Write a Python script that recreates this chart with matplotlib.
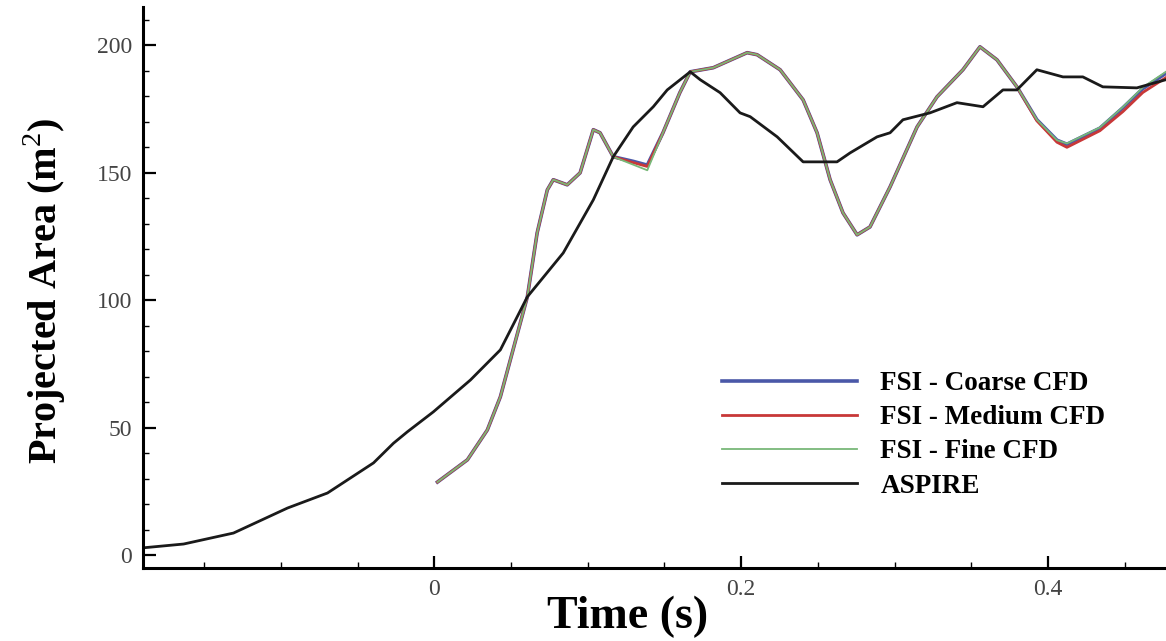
import numpy as np
import matplotlib
matplotlib.use("Agg")
import matplotlib.pyplot as plt
from matplotlib.ticker import MultipleLocator

plt.rcParams['font.family'] = ['Liberation Serif', 'DejaVu Serif']
plt.rcParams['mathtext.fontset'] = 'custom'
plt.rcParams['mathtext.rm'] = 'Liberation Serif'
plt.rcParams['mathtext.bf'] = 'Liberation Serif:bold'

# ASPIRE measured projected area
t_aspire = [-0.19, -0.1635, -0.131, -0.0958, -0.0697, -0.0397, -0.0267, -0.0176,
            -0.0007, 0.0235, 0.043, 0.0606, 0.084, 0.1036, 0.1166, 0.1296, 0.1427,
            0.1518, 0.1668, 0.1733, 0.1863, 0.1993, 0.2059, 0.2235, 0.2404, 0.2625,
            0.271, 0.2886, 0.2971, 0.3055, 0.3231, 0.3407, 0.3577, 0.3707, 0.3798,
            0.3928, 0.4098, 0.4228, 0.4358, 0.458, 0.4769]
a_aspire = [3.0, 4.5, 8.8, 18.6, 24.5, 36.3, 44.0, 48.5,
            56.3, 68.8, 80.6, 101.4, 118.6, 139.4, 156.3, 168.0, 175.9,
            182.5, 189.6, 186.5, 181.4, 173.5, 172.0, 164.1, 154.3, 154.3,
            157.8, 164.1, 165.7, 170.8, 173.5, 177.5, 175.9, 182.5, 182.5,
            190.4, 187.6, 187.6, 183.7, 183.3, 186.5]

# FSI simulations (three CFD meshes)
t_fsi = [0.002, 0.0215, 0.0345, 0.043, 0.0606, 0.067, 0.0736, 0.0775, 0.0866,
         0.095, 0.1036, 0.108, 0.1166, 0.1296, 0.1388, 0.149, 0.16, 0.1668,
         0.1818, 0.2039, 0.2104, 0.2254, 0.2404, 0.2495, 0.258, 0.2664, 0.2756,
         0.284, 0.2971, 0.3147, 0.3277, 0.3446, 0.3557, 0.3668, 0.3798, 0.3928,
         0.4059, 0.4124, 0.4339, 0.4489, 0.4619, 0.4769]
a_coarse = [28.8, 37.5, 49.2, 62.2, 101.4, 126.5, 143.3, 147.3, 145.3,
            150.0, 166.9, 165.7, 156.3, 154.5, 153.0, 165.7, 181.4, 189.6,
            191.2, 197.1, 196.3, 190.4, 178.6, 165.7, 147.3, 134.3, 125.7,
            128.8, 144.5, 168.0, 179.8, 190.4, 199.4, 194.3, 183.7, 170.8,
            162.8, 161.2, 167.5, 175.5, 183.0, 189.0]
a_medium = [28.8, 37.5, 49.2, 62.2, 101.4, 126.5, 143.3, 147.3, 145.3,
            150.0, 166.9, 165.7, 156.3, 154.0, 152.5, 165.7, 181.4, 189.6,
            191.2, 197.1, 196.3, 190.4, 178.6, 165.7, 147.3, 134.3, 125.7,
            128.8, 144.5, 168.0, 179.8, 190.4, 199.4, 194.3, 183.7, 170.4,
            162.0, 160.0, 166.5, 174.0, 181.5, 187.3]
a_fine = [28.8, 37.5, 49.2, 62.2, 101.4, 126.5, 143.3, 147.3, 145.3,
          150.0, 166.9, 165.7, 156.3, 153.2, 151.0, 165.7, 181.4, 189.6,
          191.2, 197.1, 196.3, 190.4, 178.6, 165.7, 147.3, 134.3, 125.7,
          128.8, 144.5, 168.0, 179.8, 190.4, 199.4, 194.3, 183.7, 170.8,
          162.8, 161.5, 167.8, 175.8, 183.5, 189.6]

W, H = 1166, 641
fig = plt.figure(figsize=(W / 100, H / 100), dpi=100)
ax = fig.add_axes([143 / W, 1 - 568 / H, 1 - 143 / W, (568 - 7) / H])

ax.plot(t_fsi, a_coarse, color='#4a58a8', lw=2.6, label='FSI - Coarse CFD')
ax.plot(t_fsi, a_medium, color='#c83838', lw=2.0, label='FSI - Medium CFD')
ax.plot(t_fsi, a_fine, color='#78b878', lw=1.3, label='FSI - Fine CFD')
ax.plot(t_aspire, a_aspire, color='#1a1a1a', lw=2.0, label='ASPIRE')

ax.set_xlim(-0.19, 0.477)
ax.set_ylim(-4.9, 215)
ax.xaxis.set_minor_locator(MultipleLocator(0.05))
ax.yaxis.set_major_locator(MultipleLocator(50))
ax.yaxis.set_minor_locator(MultipleLocator(10))
ax.set_xticks([0, 0.2, 0.4])
ax.set_xticklabels(['0', '0.2', '0.4'])

ax.tick_params(which='major', direction='in', length=9, width=1.6,
               labelsize=17, labelcolor='#444444', pad=8)
ax.tick_params(which='minor', direction='in', length=4, width=1.0)
ax.spines['top'].set_visible(False)
ax.spines['right'].set_visible(False)
ax.spines['left'].set_linewidth(2.2)
ax.spines['bottom'].set_linewidth(2.2)

ax.set_xlabel('Time (s)', fontsize=33, fontweight='bold')
ax.xaxis.label.set_verticalalignment('center')
ax.xaxis.set_label_coords(628 / W, 1 - 617 / H, transform=fig.transFigure)
ax.set_ylabel('Projected Area (m$^{2}$)', fontsize=29, fontweight='bold')
ax.yaxis.label.set_verticalalignment('center')
ax.yaxis.set_label_coords(45 / W, 1 - 291 / H, transform=fig.transFigure)

leg = ax.legend(loc='upper left', bbox_to_anchor=(722 / W, 1 - 371 / H),
                bbox_transform=fig.transFigure, frameon=False, borderpad=0,
                borderaxespad=0, handlelength=5.0, handletextpad=0.85,
                labelspacing=0.34, prop={'size': 19.5, 'weight': 'bold'})

fig.savefig('out.png', dpi=100)
